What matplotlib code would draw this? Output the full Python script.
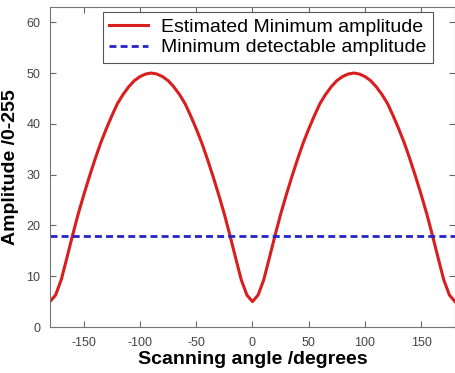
import numpy as np
import matplotlib
matplotlib.use("Agg")
import matplotlib.pyplot as plt

plt.rcParams['font.family'] = ['Liberation Sans', 'DejaVu Sans']
plt.rcParams['axes.unicode_minus'] = False

# scanning angle (degrees) and estimated minimum amplitude (0-255 scale)
angles = list(range(-180, 181, 5))
min_amplitude = [
    5, 6.3, 9.3, 13.6, 18, 22.2, 26, 29.6, 33, 36.2, 39, 41.6, 44, 45.8, 47.3, 48.5, 49.3, 49.8,
    50, 49.8, 49.3, 48.5, 47.3, 45.8, 44, 41.6, 39, 36.2, 33, 29.6, 26, 22.2, 18, 13.6, 9.3, 6.3,
    5,
    6.3, 9.3, 13.6, 18, 22.2, 26, 29.6, 33, 36.2, 39, 41.6, 44, 45.8, 47.3, 48.5, 49.3, 49.8,
    50, 49.8, 49.3, 48.5, 47.3, 45.8, 44, 41.6, 39, 36.2, 33, 29.6, 26, 22.2, 18, 13.6, 9.3, 6.3,
    5,
]
detect_threshold = 18

fig = plt.figure(figsize=(4.56, 3.73), dpi=100)
ax = fig.add_axes([50/456, 46/373, 405/456, 320/373])

ax.plot(angles, min_amplitude, color='#d81e1e', lw=2.2, solid_joinstyle='round',
        label='Estimated Minimum amplitude')
ax.plot([-180, 180], [detect_threshold, detect_threshold], color='#2323c8', lw=2,
        dashes=(2.5, 1.5), label='Minimum detectable amplitude')

ax.set_xlim(-180, 180)
ax.set_ylim(0, 63)
ax.set_xticks([-150, -100, -50, 0, 50, 100, 150])
ax.set_yticks([0, 10, 20, 30, 40, 50, 60])
ax.tick_params(direction='in', top=True, right=True, length=4, width=0.8,
               labelsize=9, colors='#666666', labelcolor='#444444', pad=7)
for s in ax.spines.values():
    s.set_color('#777777')
    s.set_linewidth(0.8)

ax.set_xlabel('Scanning angle /degrees', fontsize=14, fontweight='bold', labelpad=2)
ax.set_ylabel('Amplitude /0-255', fontsize=14, fontweight='bold', labelpad=5)

leg = ax.legend(loc='upper right', bbox_to_anchor=(0.945, 0.985), fontsize=14,
                fancybox=False, framealpha=1, edgecolor='#555555',
                handlelength=2.0, handletextpad=0.65, borderpad=0.33, labelspacing=0.15,
                borderaxespad=0)
leg.get_frame().set_linewidth(0.8)

fig.savefig('out.png', dpi=100)
